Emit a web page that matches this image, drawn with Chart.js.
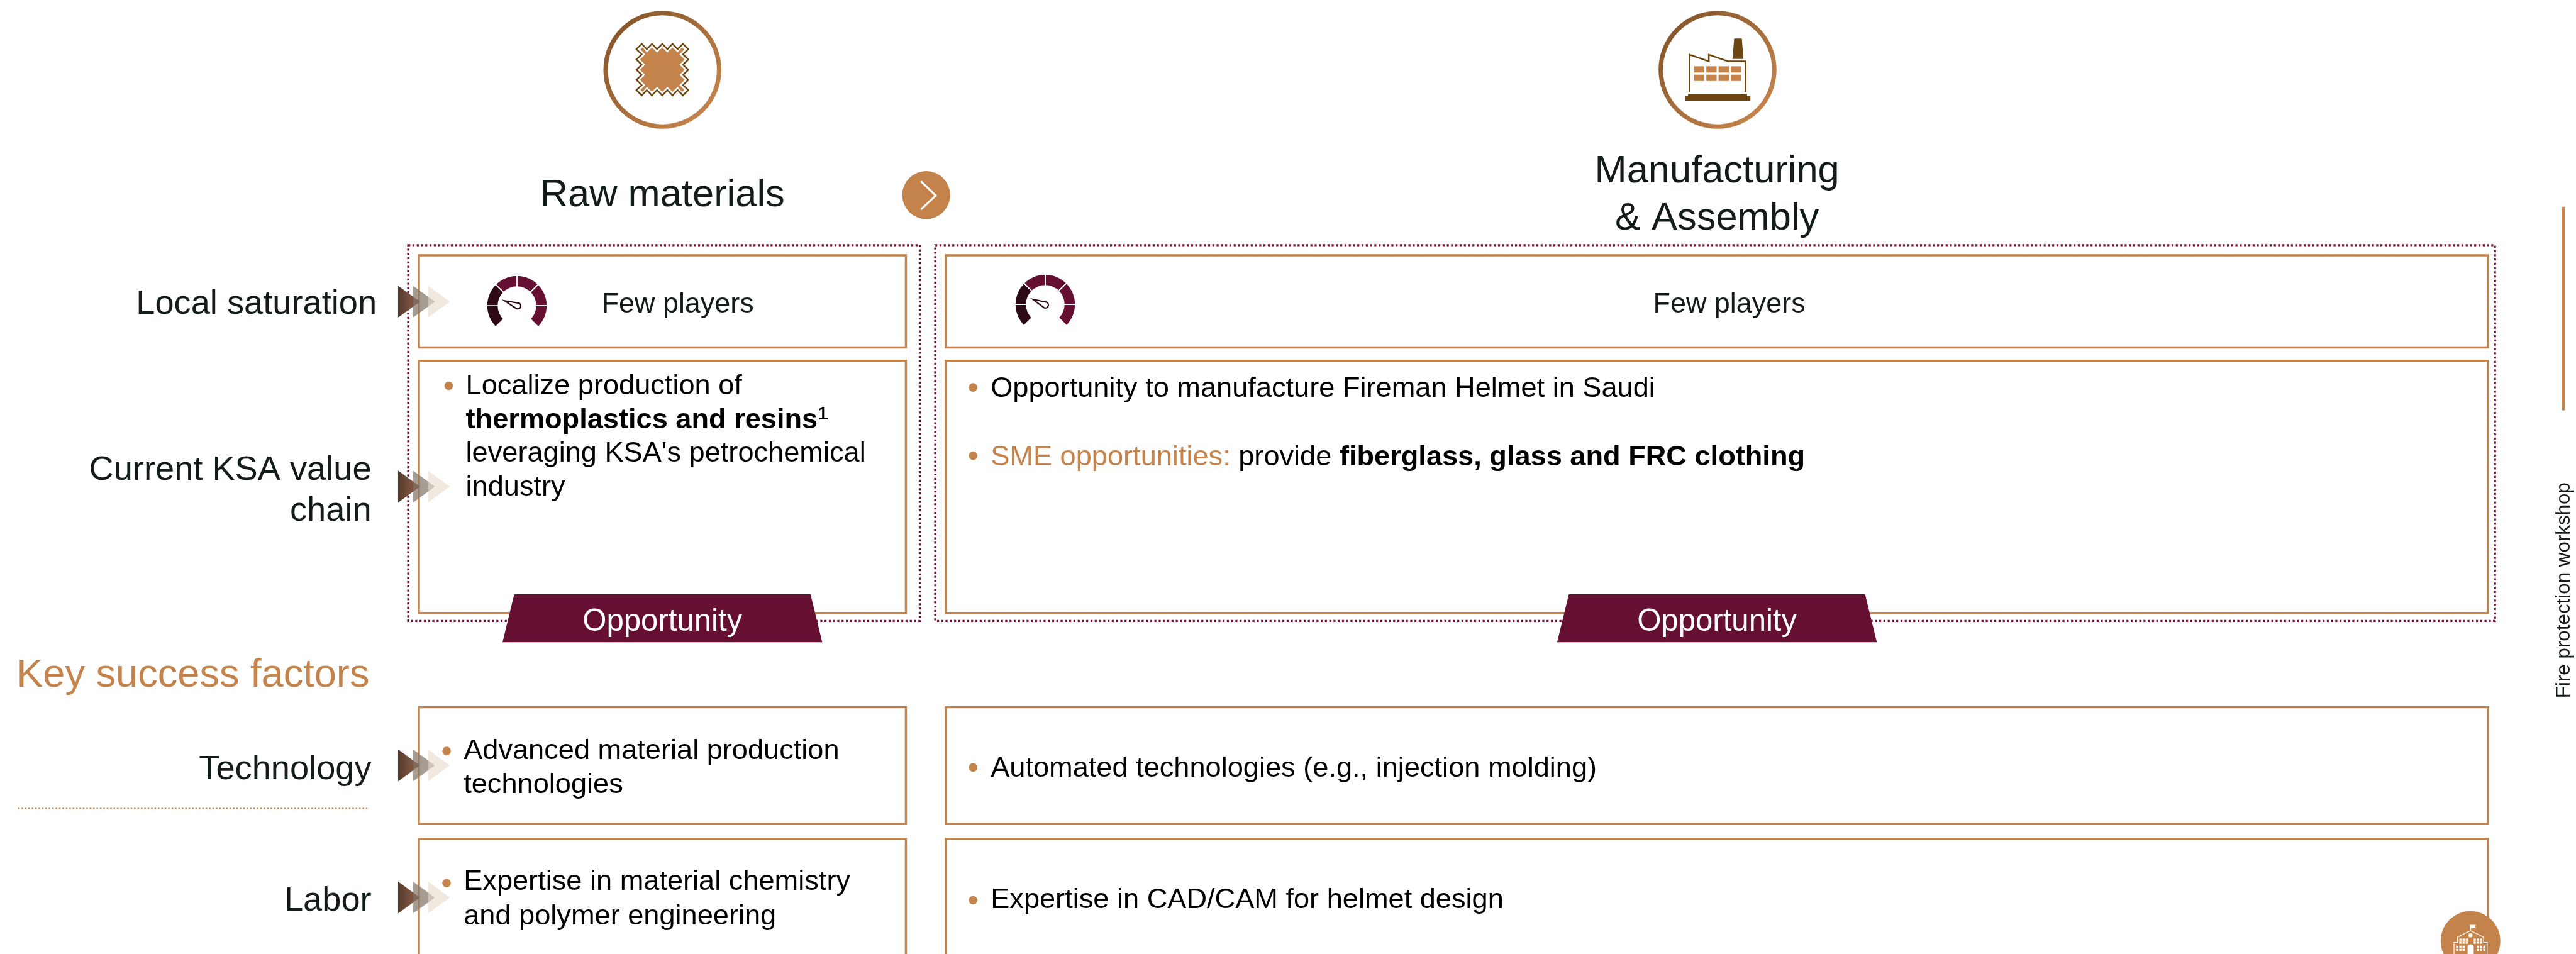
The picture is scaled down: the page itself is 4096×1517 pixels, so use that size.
<!DOCTYPE html>
<html>
<head>
<meta charset="utf-8">
<style>
html,body{margin:0;padding:0;background:#fff;width:4096px;height:1517px;overflow:hidden}
#wrap{position:relative;width:4096px;height:1517px}
canvas{position:absolute;display:block}
</style>
<script src="https://cdn.jsdelivr.net/npm/chart.js@4"></script>
</head>
<body>
<div id="wrap">
<canvas id="main" width="4096" height="1517" style="left:0;top:0"></canvas>
<canvas id="g1"></canvas>
<canvas id="g2"></canvas>
</div>
<script>
// ---- content ----
const columnTitles = [["Raw materials"], ["Manufacturing", "& Assembly"]];
const rowLabels = [["Local saturation"], ["Current KSA value", "chain"], ["Technology"], ["Labor"]];
const sectionTitle = "Key success factors";
const saturationText = ["Few players", "Few players"];
const badgeText = ["Opportunity", "Opportunity"];
const sideLabel = "Fire protection workshop";
const gaugeSegments = [1, 1, 1, 1, 1, 1];
const gaugeActive = [1, 1, 0, 0, 0, 0];

const localizeLines = [
  [["Localize production of", "n"]],
  [["thermoplastics and resins", "b"], ["1", "s"]],
  [["leveraging KSA's petrochemical", "n"]],
  [["industry", "n"]]
];
const helmetLines = [[["Opportunity to manufacture Fireman Helmet in Saudi", "n"]]];
const smeLines = [[["SME opportunities:", "o"], [" provide ", "n"], ["fiberglass, glass and FRC clothing", "b"]]];
const techLeftLines = [[["Advanced material production", "n"]], [["technologies", "n"]]];
const techRightLines = [[["Automated technologies (e.g., injection molding)", "n"]]];
const laborLeftLines = [[["Expertise in material chemistry", "n"]], [["and polymer engineering", "n"]]];
const laborRightLines = [[["Expertise in CAD/CAM for helmet design", "n"]]];

// ---- layout, in reference pixels ----
const W = 4834, H = 1790, K = 4096 / 4834;
const FONT = '"Liberation Sans", Arial, sans-serif';
const ORANGE = "#c5834c", BROWN = "#6b4410", MAROON = "#651033", DARK = "#2d0815", INK = "#141c1a";

const boxes = [
  [786, 479, 1700, 652], [786, 677, 1700, 1150],
  [1775, 479, 4669, 652], [1775, 677, 4669, 1150],
  [786, 1327, 1700, 1546], [786, 1574, 1700, 1810],
  [1775, 1327, 4669, 1546], [1775, 1574, 4669, 1810]
];
const dottedBoxes = [[766, 460, 1726, 1165], [1755, 460, 4682, 1165]];
const arrowCentres = [566, 913, 1436, 1684];
const tabCentres = [1243, 3222];
const bulletX = [842, 1826, 1826, 838, 1826, 838, 1826];
const bulletY = [724, 727, 855, 1409, 1440, 1657, 1689];

function drawAll(chart) {
  const c = chart.ctx, sx = chart.scales.x, sy = chart.scales.y;
  const X = v => sx.getPixelForValue(v), Y = v => sy.getPixelForValue(v);
  const px = v => v * K;
  const poly = (pts, close) => {
    c.beginPath();
    pts.forEach((p, i) => i ? c.lineTo(X(p[0]), Y(p[1])) : c.moveTo(X(p[0]), Y(p[1])));
    if (close) c.closePath();
  };
  const rect = (x0, y0, x1, y1) => c.rect(X(x0), Y(y0), X(x1) - X(x0), Y(y1) - Y(y0));
  const text = (s, x, y, size, opts = {}) => {
    c.font = `${opts.bold ? "bold " : ""}${px(size)}px ${FONT}`;
    c.fillStyle = opts.color || INK;
    c.textAlign = opts.align || "left";
    c.textBaseline = "alphabetic";
    c.fillText(s, X(x), Y(y));
  };
  const rich = (lines, x, y, lh, size) => {
    lines.forEach((segs, li) => {
      let cx = X(x);
      const by = Y(y + li * lh);
      segs.forEach(([s, st]) => {
        const sup = st === "s";
        c.font = `${st === "b" || sup ? "bold " : ""}${px(sup ? size * 0.66 : size)}px ${FONT}`;
        c.fillStyle = st === "o" ? ORANGE : "#000";
        c.textAlign = "left";
        c.textBaseline = "alphabetic";
        c.fillText(s, cx, sup ? by - px(size * 0.3) : by);
        cx += c.measureText(s).width;
      });
    });
  };

  c.save();
  c.fillStyle = "#fff";
  c.fillRect(0, 0, chart.width, chart.height);

  // ring icons
  [[1243, 131], [3223, 131]].forEach(([cx, cy]) => {
    const g = c.createLinearGradient(X(cx - 80), Y(cy - 80), X(cx + 80), Y(cy + 80));
    g.addColorStop(0, "#87582b");
    g.addColorStop(1, "#c5834c");
    c.strokeStyle = g;
    c.lineWidth = px(8.4);
    c.beginPath();
    c.arc(X(cx), Y(cy), px(106.5), 0, Math.PI * 2);
    c.stroke();
  });

  // fabric icon: zigzag outline plus an inset zigzag fill
  const tx = [1204.3, 1223.3, 1242.8, 1262, 1281.5], ly = [92.3, 111.7, 131, 150, 169];
  const mid = (a, i) => (a[i] + a[i + 1]) / 2;
  const fab = [];
  for (let i = 0; i < 5; i++) { fab.push([tx[i], 82.3]); if (i < 4) fab.push([mid(tx, i), 92.3]); }
  for (let i = 0; i < 5; i++) { fab.push([1291.7, ly[i]]); if (i < 4) fab.push([1281.7, mid(ly, i)]); }
  for (let i = 4; i >= 0; i--) { fab.push([tx[i], 179]); if (i > 0) fab.push([mid(tx, i - 1), 169]); }
  for (let i = 4; i >= 0; i--) { fab.push([1194.3, ly[i]]); if (i > 0) fab.push([1204.3, mid(ly, i - 1)]); }
  poly(fab, true);
  c.strokeStyle = BROWN; c.lineWidth = px(2.9); c.lineJoin = "miter"; c.stroke();
  const inner = [[1201.7, 92.7]];
  for (let i = 0; i < 5; i++) { inner.push([tx[i] + (i === 0 ? 2 : i === 4 ? -2 : 0), 89]); if (i < 4) inner.push([mid(tx, i), 98.5]); }
  inner.push([1284.3, 92.7]);
  for (let i = 0; i < 4; i++) { inner.push([1275, mid(ly, i)]); if (i < 3) inner.push([1285, ly[i + 1]]); }
  inner.push([1284.3, 168.6]);
  for (let i = 4; i >= 0; i--) { inner.push([tx[i] + (i === 0 ? 2 : i === 4 ? -2 : 0), 172.3]); if (i > 0) inner.push([mid(tx, i - 1), 162.8]); }
  inner.push([1201.7, 168.6]);
  for (let i = 3; i >= 0; i--) { inner.push([1210.8, mid(ly, i)]); if (i > 0) inner.push([1200.8, ly[i]]); }
  poly(inner, true);
  c.fillStyle = ORANGE; c.fill();

  // factory icon (zoom coordinates / 3)
  const fz = ([x, y]) => [3000 + x / 3, y / 3];
  poly([[512, 518], [512, 308], [620, 345], [620, 308], [728, 345], [827, 345], [827, 518]].map(fz));
  c.strokeStyle = BROWN; c.lineWidth = px(3); c.stroke();
  c.fillStyle = BROWN;
  poly([[763, 217], [806, 217], [815, 332], [753, 332]].map(fz), true); c.fill();
  poly([[503, 528], [835, 528], [835, 540], [854, 540], [854, 566], [485, 566], [485, 540], [503, 540]].map(fz), true); c.fill();
  c.fillStyle = ORANGE;
  [537, 606, 675, 744].forEach(x => [[373, 408], [420, 456]].forEach(([a, b]) => {
    c.beginPath(); rect(3000 + x / 3, a / 3, 3000 + (x + 58) / 3, b / 3); c.fill();
  }));

  // column titles
  text(columnTitles[0][0], 1243, 387, 72.5, { align: "center" });
  columnTitles[1].forEach((s, i) => text(s, 3222, 342 + i * 89, 72.5, { align: "center" }));

  // chevron button
  c.fillStyle = ORANGE;
  c.beginPath(); c.arc(X(1738), Y(366), px(45), 0, Math.PI * 2); c.fill();
  poly([[1728, 340], [1756, 367], [1728, 393]]);
  c.strokeStyle = "#fff"; c.lineWidth = px(3.6); c.lineCap = "butt"; c.stroke();

  // dotted frames
  c.strokeStyle = MAROON; c.lineWidth = px(3.8); c.setLineDash([px(3.8), px(4.2)]);
  dottedBoxes.forEach(b => { c.beginPath(); rect(...b); c.stroke(); });
  c.setLineDash([]);

  // solid boxes
  c.strokeStyle = ORANGE; c.lineWidth = px(4);
  boxes.forEach(b => { c.beginPath(); rect(...b); c.stroke(); });

  // tabs
  tabCentres.forEach((cx, i) => {
    c.fillStyle = MAROON;
    poly([[cx - 278, 1115], [cx + 278, 1115], [cx + 300, 1205], [cx - 300, 1205]], true);
    c.fill();
    text(badgeText[i], cx, 1183, 58, { align: "center", color: "#fff" });
  });

  // row labels
  text(rowLabels[0][0], 707, 589, 64, { align: "right" });
  text(rowLabels[1][0], 697, 900, 64, { align: "right" });
  text(rowLabels[1][1], 697, 977, 64, { align: "right" });
  text(rowLabels[2][0], 697, 1462, 64, { align: "right" });
  text(rowLabels[3][0], 697, 1708, 64, { align: "right" });

  // section title and its rule
  text(sectionTitle, 31, 1289, 74.5, { color: ORANGE });
  c.strokeStyle = ORANGE; c.lineWidth = px(2.8); c.setLineDash([px(2.8), px(3.6)]);
  poly([[34, 1517], [690, 1517]]); c.stroke();
  c.setLineDash([]);

  // triple arrows
  arrowCentres.forEach(cy => {
    const tri = x => poly([[x, cy - 30], [x + 41, cy], [x, cy + 30]], true);
    const g = c.createLinearGradient(X(747), 0, X(788), 0);
    g.addColorStop(0, "#543a2c"); g.addColorStop(0.6, "#7c5442"); g.addColorStop(1, "#6e4a3a");
    tri(747); c.fillStyle = g; c.fill();
    tri(775); c.fillStyle = "rgba(130,118,106,0.72)"; c.fill();
    tri(803); c.fillStyle = "rgba(232,218,203,0.62)"; c.fill();
  });

  // needles
  [[946.7, 564.3, 971.7, 574], [1938.3, 561.7, 1961.7, 572.3]].forEach(([tx0, ty0, bx, by]) => {
    const cxx = X(bx), cyy = Y(by), r = px(5.6);
    const ang = Math.atan2(ty0 - by, tx0 - bx);
    c.beginPath();
    c.moveTo(X(tx0), Y(ty0));
    c.lineTo(cxx + r * Math.cos(ang + 1.4), cyy + r * Math.sin(ang + 1.4));
    c.arc(cxx, cyy, r, ang + 1.4, ang - 1.4 + Math.PI * 2);
    c.closePath();
    c.strokeStyle = DARK; c.lineWidth = px(2.6); c.lineJoin = "miter"; c.stroke();
  });

  // saturation texts
  text(saturationText[0], 1129, 587, 53);
  text(saturationText[1], 3245, 587, 53, { align: "center" });

  // body copy
  rich(localizeLines.slice(0, 1), 874, 740, 64, 53.3);
  rich(localizeLines.slice(1), 874, 803, 63.5, 53.3);
  rich(helmetLines, 1859, 745, 64, 53.3);
  rich(smeLines, 1859, 873, 64, 53.3);
  rich(techLeftLines, 870, 1424, 64, 53.3);
  rich(techRightLines, 1859, 1457, 64, 53.3);
  rich(laborLeftLines, 870, 1670, 64, 53.3);
  rich(laborRightLines, 1859, 1704, 64, 53.3);

  // side bar and label
  c.fillStyle = ORANGE;
  c.beginPath(); rect(4807, 388, 4813, 770); c.fill();
  c.save();
  c.translate(X(4822), Y(1310));
  c.rotate(-Math.PI / 2);
  c.font = `${px(37)}px ${FONT}`;
  c.fillStyle = INK; c.textAlign = "left"; c.textBaseline = "alphabetic";
  c.fillText(sideLabel, 0, 0);
  c.restore();

  // school badge
  c.fillStyle = ORANGE;
  c.beginPath(); c.arc(X(4636), Y(1765.5), px(56), 0, Math.PI * 2); c.fill();
  const sz = ([x, y]) => [4400 + x / 3, 1500 + y / 3];
  c.strokeStyle = "#fff"; c.fillStyle = "#fff"; c.lineWidth = px(1.4);
  poly([[615, 875], [615, 805], [635, 805], [635, 775], [708, 738], [782, 775], [782, 805], [802, 805], [802, 875]].map(sz)); c.stroke();
  poly([[706, 734], [706, 705], [740, 705], [732, 714], [740, 724], [711, 724], [711, 734]].map(sz), true); c.fill();
  c.beginPath(); c.arc(X(4400 + 708 / 3), Y(1500 + 765 / 3), px(3.8), 0, Math.PI * 2); c.fill();
  [[645, 783], [663, 783], [681, 783], [726, 783], [744, 783], [762, 783],
   [645, 800], [663, 800], [681, 800], [726, 800], [744, 800], [762, 800],
   [627, 823], [645, 823], [663, 823], [744, 823], [762, 823], [780, 823],
   [627, 840], [645, 840], [663, 840], [744, 840], [762, 840], [780, 840]].forEach(([x, y]) => {
    c.beginPath(); rect(4400 + x / 3, 1500 + y / 3, 4400 + (x + 12) / 3, 1500 + (y + 12) / 3); c.fill();
  });
  c.beginPath();
  rect(4400 + 692 / 3, 1500 + 832 / 3, 4400 + 726 / 3, 1500 + 880 / 3); c.fill();
  c.beginPath(); c.arc(X(4400 + 709 / 3), Y(1500 + 832 / 3), px(5.7), 0, Math.PI * 2); c.fill();
  c.restore();
}

new Chart(document.getElementById("main"), {
  type: "scatter",
  data: {
    datasets: [{
      label: "bullets",
      data: bulletX.map((x, i) => ({ x, y: bulletY[i] })),
      pointRadius: 8 * K,
      pointBackgroundColor: ORANGE,
      pointBorderWidth: 0,
      clip: false
    }]
  },
  options: {
    responsive: false, animation: false, events: [],
    layout: { padding: 0, autoPadding: false },
    plugins: { legend: { display: false }, tooltip: { enabled: false }, title: { display: false } },
    scales: {
      x: { type: "linear", min: 0, max: W, display: false },
      y: { type: "linear", min: 0, max: H, reverse: true, display: false }
    }
  },
  plugins: [{ id: "diagram", beforeDatasetsDraw: drawAll }]
});

// gauges: doughnut charts of six equal sectors
const R = 58 * K, gaugeCentres = [[970, 573.5], [1962, 571.7]];
["g1", "g2"].forEach((id, i) => {
  const el = document.getElementById(id);
  const size = Math.round(2 * R);
  el.width = size; el.height = size;
  el.style.width = el.style.height = size + "px";
  el.style.left = (gaugeCentres[i][0] * K - size / 2) + "px";
  el.style.top = (gaugeCentres[i][1] * K - size / 2 - 0.1464 * size / 2) + "px";
  new Chart(el, {
    type: "doughnut",
    data: {
      labels: gaugeSegments.map((_, j) => "s" + j),
      datasets: [{
        data: gaugeSegments,
        backgroundColor: gaugeActive.map(a => a ? DARK : MAROON),
        borderColor: "#fff", borderWidth: 1.8, borderAlign: "center"
      }]
    },
    options: {
      responsive: false, animation: false, events: [],
      rotation: -135, circumference: 270, cutout: "62%",
      layout: { padding: 0, autoPadding: false },
      plugins: { legend: { display: false }, tooltip: { enabled: false } }
    }
  });
});
</script>
</body>
</html>
